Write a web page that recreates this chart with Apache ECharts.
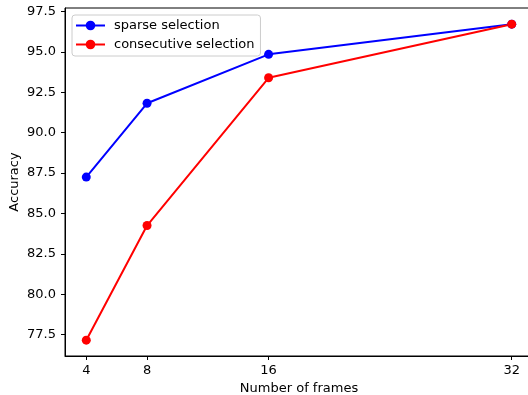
<!DOCTYPE html>
<html>
<head>
<meta charset="utf-8">
<script src="https://cdn.jsdelivr.net/npm/echarts@6/dist/echarts.min.js"></script>
<style>
  html, body { margin: 0; padding: 0; background: #fff; }
  #chart { width: 528px; height: 395px; }
</style>
</head>
<body>
<div id="chart"></div>
<script>
var frames = [4, 8, 16, 32]
var sparse = [87.25, 91.82, 94.85, 96.72]
var consecutive = [77.15, 84.25, 93.4, 96.72]
var yTicks = [77.5, 80.0, 82.5, 85.0, 87.5, 90.0, 92.5, 95.0, 97.5]

function pairs(xs, ys) {
  return xs.map(function (x, i) { return [x, ys[i]] })
}

var myChart = echarts.init(document.getElementById('chart'))
var fontFamily = 'DejaVu Sans'
var fontSize = 13
var lineColor = '#000'

var option = {
  animation: false,
  textStyle: { fontFamily: fontFamily },
  grid: {
    left: 65,
    top: 8,
    width: 468,
    height: 348,
    outerBoundsMode: 'none',
    containLabel: false,
    show: true,
    borderColor: lineColor,
    borderWidth: 1,
    backgroundColor: 'transparent'
  },
  legend: {
    orient: 'vertical',
    left: 72,
    top: 15,
    itemWidth: 29,
    itemHeight: 12,
    itemGap: 6,
    padding: [4, 6, 5, 3],
    borderColor: '#cccccc',
    borderWidth: 1,
    borderRadius: 3,
    backgroundColor: 'rgba(255,255,255,0.8)',
    textStyle: {
      fontFamily: fontFamily,
      fontSize: fontSize,
      color: '#000',
      padding: [0, 0, 0, 4]
    },
    data: ['sparse selection', 'consecutive selection']
  },
  xAxis: {
    type: 'value',
    min: 2.6,
    max: 33.4,
    name: 'Number of frames',
    nameLocation: 'middle',
    nameGap: 25,
    nameTextStyle: { fontFamily: fontFamily, fontSize: fontSize, color: '#000' },
    axisLine: { show: true, lineStyle: { color: lineColor, width: 1 } },
    axisTick: { show: true, inside: false, length: 4, customValues: frames, lineStyle: { color: lineColor } },
    axisLabel: { customValues: frames, margin: 8, fontFamily: fontFamily, fontSize: fontSize, color: '#000' },
    splitLine: { show: false }
  },
  yAxis: {
    type: 'value',
    min: 76.17,
    max: 97.72,
    name: 'Accuracy',
    nameLocation: 'middle',
    nameGap: 44,
    nameMoveOverlap: false,
    nameTextStyle: { fontFamily: fontFamily, fontSize: fontSize, color: '#000' },
    axisLine: { show: true, lineStyle: { color: lineColor, width: 1 } },
    axisTick: { show: true, inside: false, length: 4, customValues: yTicks, lineStyle: { color: lineColor } },
    axisLabel: {
      customValues: yTicks,
      margin: 9,
      fontFamily: fontFamily,
      fontSize: fontSize,
      color: '#000',
      formatter: function (v) { return v.toFixed(1) }
    },
    splitLine: { show: false }
  },
  series: [
    {
      name: 'sparse selection',
      type: 'line',
      symbol: 'circle',
      symbolSize: 9,
      color: '#0000ff',
      lineStyle: { width: 2, color: '#0000ff' },
      itemStyle: { color: '#0000ff' },
      data: pairs(frames, sparse)
    },
    {
      name: 'consecutive selection',
      type: 'line',
      symbol: 'circle',
      symbolSize: 9,
      color: '#ff0000',
      lineStyle: { width: 2, color: '#ff0000' },
      itemStyle: { color: '#ff0000' },
      data: pairs(frames, consecutive)
    }
  ]
}

myChart.setOption(option)
</script>
</body>
</html>
